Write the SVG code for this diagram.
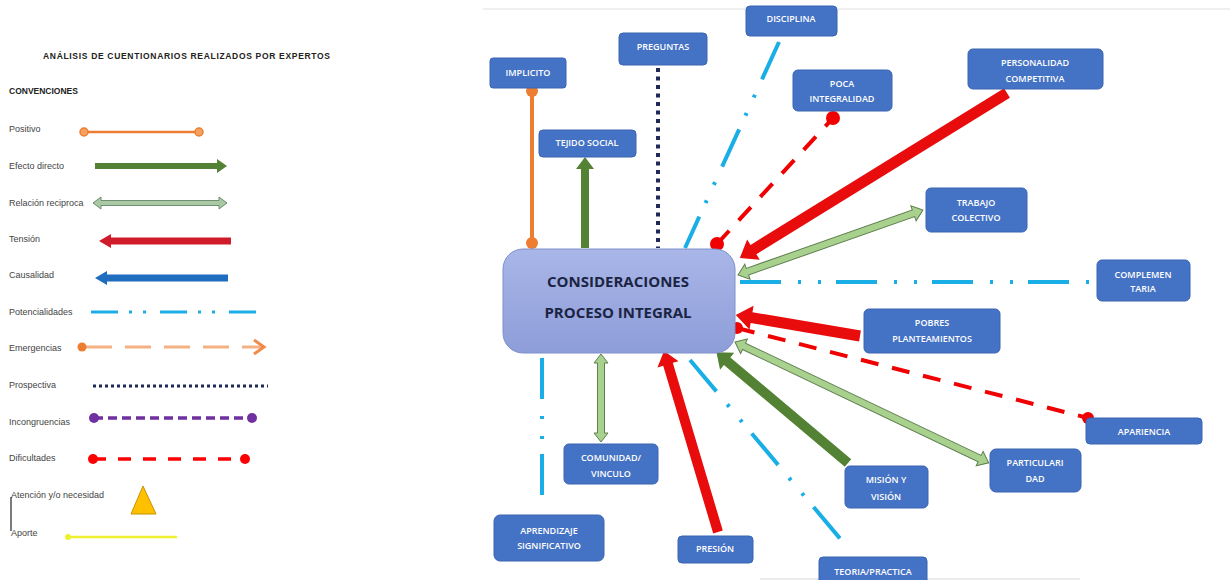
<svg xmlns="http://www.w3.org/2000/svg" width="1230" height="580" viewBox="0 0 1230 580">
<defs>
<linearGradient id="cg" x1="0" y1="0" x2="0" y2="1">
<stop offset="0" stop-color="#a9b6e8"/>
<stop offset="1" stop-color="#8d9dd8"/>
</linearGradient>
</defs>
<style>
.lt{font-family:"Liberation Sans",Arial,sans-serif;font-size:9px;fill:#444}
.lh{font-family:"Liberation Sans",Arial,sans-serif;font-size:8.5px;font-weight:bold;fill:#222}
.nb{fill:#4472c4;stroke:#3b64b0;stroke-width:1}
.nt{font-family:"Open Sans","Liberation Sans",sans-serif;font-size:9px;font-weight:600;fill:#ffffff;text-anchor:middle}
.ct{font-family:"Open Sans","Liberation Sans",sans-serif;font-size:15px;font-weight:bold;fill:#1c2444;text-anchor:middle}
.red{fill:#e80c0c}
.dg{fill:#548235}
.lg{fill:#a9d18e;stroke:#5f7f50;stroke-width:1}
.cy{fill:none;stroke:#1aaee6;stroke-width:4}
.rd{fill:none;stroke:#f00000;stroke-width:4}
</style>
<rect x="0" y="0" width="1230" height="580" fill="#ffffff"/>
<line x1="483" y1="9" x2="1230" y2="9" stroke="#efefef" stroke-width="2"/>
<line x1="760" y1="579" x2="1080" y2="579" stroke="#d8d8d8" stroke-width="1"/>

<g id="legend">
<text class="lh" x="43" y="59" textLength="287">ANÁLISIS DE CUENTIONARIOS REALIZADOS POR EXPERTOS</text>
<text class="lh" x="9" y="94">CONVENCIONES</text>
<text class="lt" x="9" y="132">Positivo</text>
<line x1="84" y1="132" x2="199" y2="132" stroke="#ed7d31" stroke-width="2.5"/>
<circle cx="84" cy="132" r="4" fill="#f4a15e" stroke="#ed7d31" stroke-width="1.5"/>
<circle cx="199" cy="132" r="4" fill="#f4a15e" stroke="#ed7d31" stroke-width="1.5"/>
<text class="lt" x="9" y="169">Efecto directo</text>
<polygon class="dg" transform="translate(95,166)" points="0,-3 122,-3 122,-7 132,0 122,7 122,3 0,3"/>
<text class="lt" x="9" y="206">Relación reciproca</text>
<polygon class="lg" transform="translate(93,203)" points="0,0 8,-6 8,-2.5 126,-2.5 126,-6 134,0 126,6 126,2.5 8,2.5 8,6" style="fill:#a8c9a4;stroke:#6e9070"/>
<text class="lt" x="9" y="242">Tensión</text>
<polygon transform="translate(231,241) rotate(180)" points="0,-3.5 120,-3.5 120,-7 132,0 120,7 120,3.5 0,3.5" fill="#d01c2a"/>
<text class="lt" x="9" y="278">Causalidad</text>
<polygon transform="translate(228,278) rotate(180)" points="0,-3.5 121,-3.5 121,-7 133,0 121,7 121,3.5 0,3.5" fill="#1f6dbf"/>
<text class="lt" x="9" y="315">Potencialidades</text>
<line x1="91" y1="312" x2="257" y2="312" stroke="#1aaee6" stroke-width="3" stroke-dasharray="27 11 3 11 3 14"/>
<text class="lt" x="9" y="351">Emergencias</text>
<line x1="86" y1="347" x2="262" y2="347" stroke="#f4b183" stroke-width="3" stroke-dasharray="26 13"/>
<circle cx="82" cy="347" r="4.5" fill="#ed7d31"/>
<polyline points="254,340 264,347 254,354" fill="none" stroke="#f08a4b" stroke-width="3"/>
<text class="lt" x="9" y="388">Prospectiva</text>
<line x1="93" y1="386" x2="268" y2="386" stroke="#1f2a5a" stroke-width="3" stroke-dasharray="3 3"/>
<text class="lt" x="9" y="425">Incongruencias</text>
<line x1="94" y1="418" x2="252" y2="418" stroke="#7030a0" stroke-width="3.5" stroke-dasharray="9 5"/>
<circle cx="94" cy="418" r="5" fill="#7030a0"/>
<circle cx="252" cy="418" r="5" fill="#7030a0"/>
<text class="lt" x="9" y="461">Dificultades</text>
<line x1="93" y1="459" x2="245" y2="459" stroke="#ff0000" stroke-width="3.5" stroke-dasharray="13 12"/>
<circle cx="93" cy="459" r="5" fill="#ff0000"/>
<circle cx="245" cy="459" r="5" fill="#ff0000"/>
<text class="lt" x="11" y="498">Atención y/o necesidad</text>
<polygon points="143,486 156,514 131,514" fill="#ffc000" stroke="#c79200" stroke-width="1"/>
<line x1="11" y1="497" x2="11" y2="531" stroke="#222" stroke-width="1.2"/>
<text class="lt" x="11" y="536">Aporte</text>
<line x1="68" y1="537" x2="177" y2="537" stroke="#eef030" stroke-width="2.5"/>
<circle cx="68" cy="537" r="3" fill="#eef030"/>
</g>

<g id="connectors">
<line x1="532" y1="91" x2="532" y2="243" stroke="#ed7d31" stroke-width="4"/>
<circle cx="532" cy="91" r="6" fill="#ed7d31"/>
<circle cx="532" cy="243" r="6" fill="#ed7d31"/>
<polygon class="dg" transform="translate(585,248) rotate(-90)" points="0,-4 79,-4 79,-9 91,0 79,9 79,4 0,4"/>
<line x1="658" y1="68" x2="658" y2="248" stroke="#1f2a5a" stroke-width="4" stroke-dasharray="4 4.5"/>
<line class="cy" x1="779" y1="42" x2="685" y2="248" stroke-dasharray="41 17 3 17 3 15"/>
<line class="rd" x1="717" y1="244" x2="833" y2="118" stroke-dasharray="18 14"/>
<circle cx="717" cy="244" r="7" fill="#f00000"/>
<circle cx="833" cy="118" r="7" fill="#f00000"/>
<polygon class="red" transform="translate(1007,93) rotate(148.3)" points="0,-5.5 298,-5.5 298,-12 314,0 298,12 298,5.5 0,5.5"/>
<polygon class="lg" transform="translate(738,275) rotate(-19.36)" points="0,0 10,-8 10,-3.5 186,-3.5 186,-8 196,0 186,8 186,3.5 10,3.5 10,8"/>
<line class="cy" x1="740" y1="282" x2="1090" y2="282" stroke-dasharray="41 17 3 17 3 15"/>
<polygon class="red" transform="translate(860,336) rotate(189.6)" points="0,-5.5 110,-5.5 110,-12 126,0 110,12 110,5.5 0,5.5"/>
<line class="rd" x1="737" y1="328" x2="1088" y2="418" stroke-dasharray="18 14"/>
<circle cx="737" cy="328" r="6" fill="#f00000"/>
<circle cx="1088" cy="418" r="6" fill="#f00000"/>
<polygon class="lg" transform="translate(735,342) rotate(25.47)" points="0,0 10,-8 10,-3.5 271,-3.5 271,-8 281,0 271,8 271,3.5 10,3.5 10,8"/>
<polygon class="dg" transform="translate(848,463) rotate(-139.9)" points="0,-5 158,-5 158,-11 172,0 158,11 158,5 0,5"/>
<line class="cy" x1="690" y1="360" x2="848" y2="548" stroke-dasharray="41 17 3 17 3 15"/>
<polygon class="red" transform="translate(718,532) rotate(-106.6)" points="0,-5 175,-5 175,-11 189,0 175,11 175,5 0,5"/>
<polygon class="lg" transform="translate(601,354) rotate(90)" points="0,0 9,-7 9,-3.5 79,-3.5 79,-7 88,0 79,7 79,3.5 9,3.5 9,7"/>
<line class="cy" x1="542" y1="358" x2="542" y2="506" stroke-dasharray="41 17 3 17 3 15"/>
</g>

<g id="center">
<rect x="503" y="249" width="232" height="104" rx="20" fill="url(#cg)" stroke="#7f90cc" stroke-width="1"/>
<text class="ct" x="618" y="287">CONSIDERACIONES</text>
<text class="ct" x="618" y="318">PROCESO INTEGRAL</text>
</g>

<g id="implicito"><rect class="nb" x="490" y="58" width="76" height="30" rx="3"/><text class="nt" x="528" y="76">IMPLICITO</text></g>
<g id="preguntas"><rect class="nb" x="619" y="33" width="88" height="32" rx="4"/><text class="nt" x="663" y="50">PREGUNTAS</text></g>
<g id="disciplina"><rect class="nb" x="746" y="6" width="91" height="30" rx="4"/><text class="nt" x="791" y="22">DISCIPLINA</text></g>
<g id="tejido"><rect class="nb" x="539" y="130" width="97" height="27" rx="4"/><text class="nt" x="587" y="146">TEJIDO SOCIAL</text></g>
<g id="poca"><rect class="nb" x="793" y="70" width="99" height="41" rx="5"/><text class="nt" x="842" y="87">POCA</text><text class="nt" x="842" y="102">INTEGRALIDAD</text></g>
<g id="personalidad"><rect class="nb" x="968" y="49" width="135" height="40" rx="5"/><text class="nt" x="1035" y="66">PERSONALIDAD</text><text class="nt" x="1035" y="82">COMPETITIVA</text></g>
<g id="trabajo"><rect class="nb" x="926" y="188" width="101" height="44" rx="5"/><text class="nt" x="976" y="206">TRABAJO</text><text class="nt" x="976" y="221">COLECTIVO</text></g>
<g id="complementaria"><rect class="nb" x="1097" y="260" width="93" height="41" rx="5"/><text class="nt" x="1143" y="278">COMPLEMEN</text><text class="nt" x="1143" y="292">TARIA</text></g>
<g id="pobres"><rect class="nb" x="864" y="309" width="136" height="44" rx="5"/><text class="nt" x="932" y="326">POBRES</text><text class="nt" x="932" y="342">PLANTEAMIENTOS</text></g>
<g id="apariencia"><rect class="nb" x="1086" y="418" width="116" height="26" rx="4"/><text class="nt" x="1144" y="435">APARIENCIA</text></g>
<g id="particularidad"><rect class="nb" x="990" y="449" width="91" height="43" rx="6"/><text class="nt" x="1035" y="466">PARTICULARI</text><text class="nt" x="1035" y="482">DAD</text></g>
<g id="mision"><rect class="nb" x="845" y="466" width="83" height="42" rx="5"/><text class="nt" x="886" y="483">MISIÓN Y</text><text class="nt" x="886" y="500">VISIÓN</text></g>
<g id="teoria"><rect class="nb" x="819" y="557" width="108" height="30" rx="4"/><text class="nt" x="873" y="575">TEORIA/PRACTICA</text></g>
<g id="presion"><rect class="nb" x="678" y="536" width="75" height="27" rx="4"/><text class="nt" x="715" y="552">PRESIÓN</text></g>
<g id="aprendizaje"><rect class="nb" x="494" y="515" width="110" height="46" rx="6"/><text class="nt" x="549" y="534">APRENDIZAJE</text><text class="nt" x="549" y="549">SIGNIFICATIVO</text></g>
<g id="comunidad"><rect class="nb" x="564" y="444" width="94" height="40" rx="5"/><text class="nt" x="611" y="461">COMUNIDAD/</text><text class="nt" x="611" y="477">VINCULO</text></g>
</svg>
